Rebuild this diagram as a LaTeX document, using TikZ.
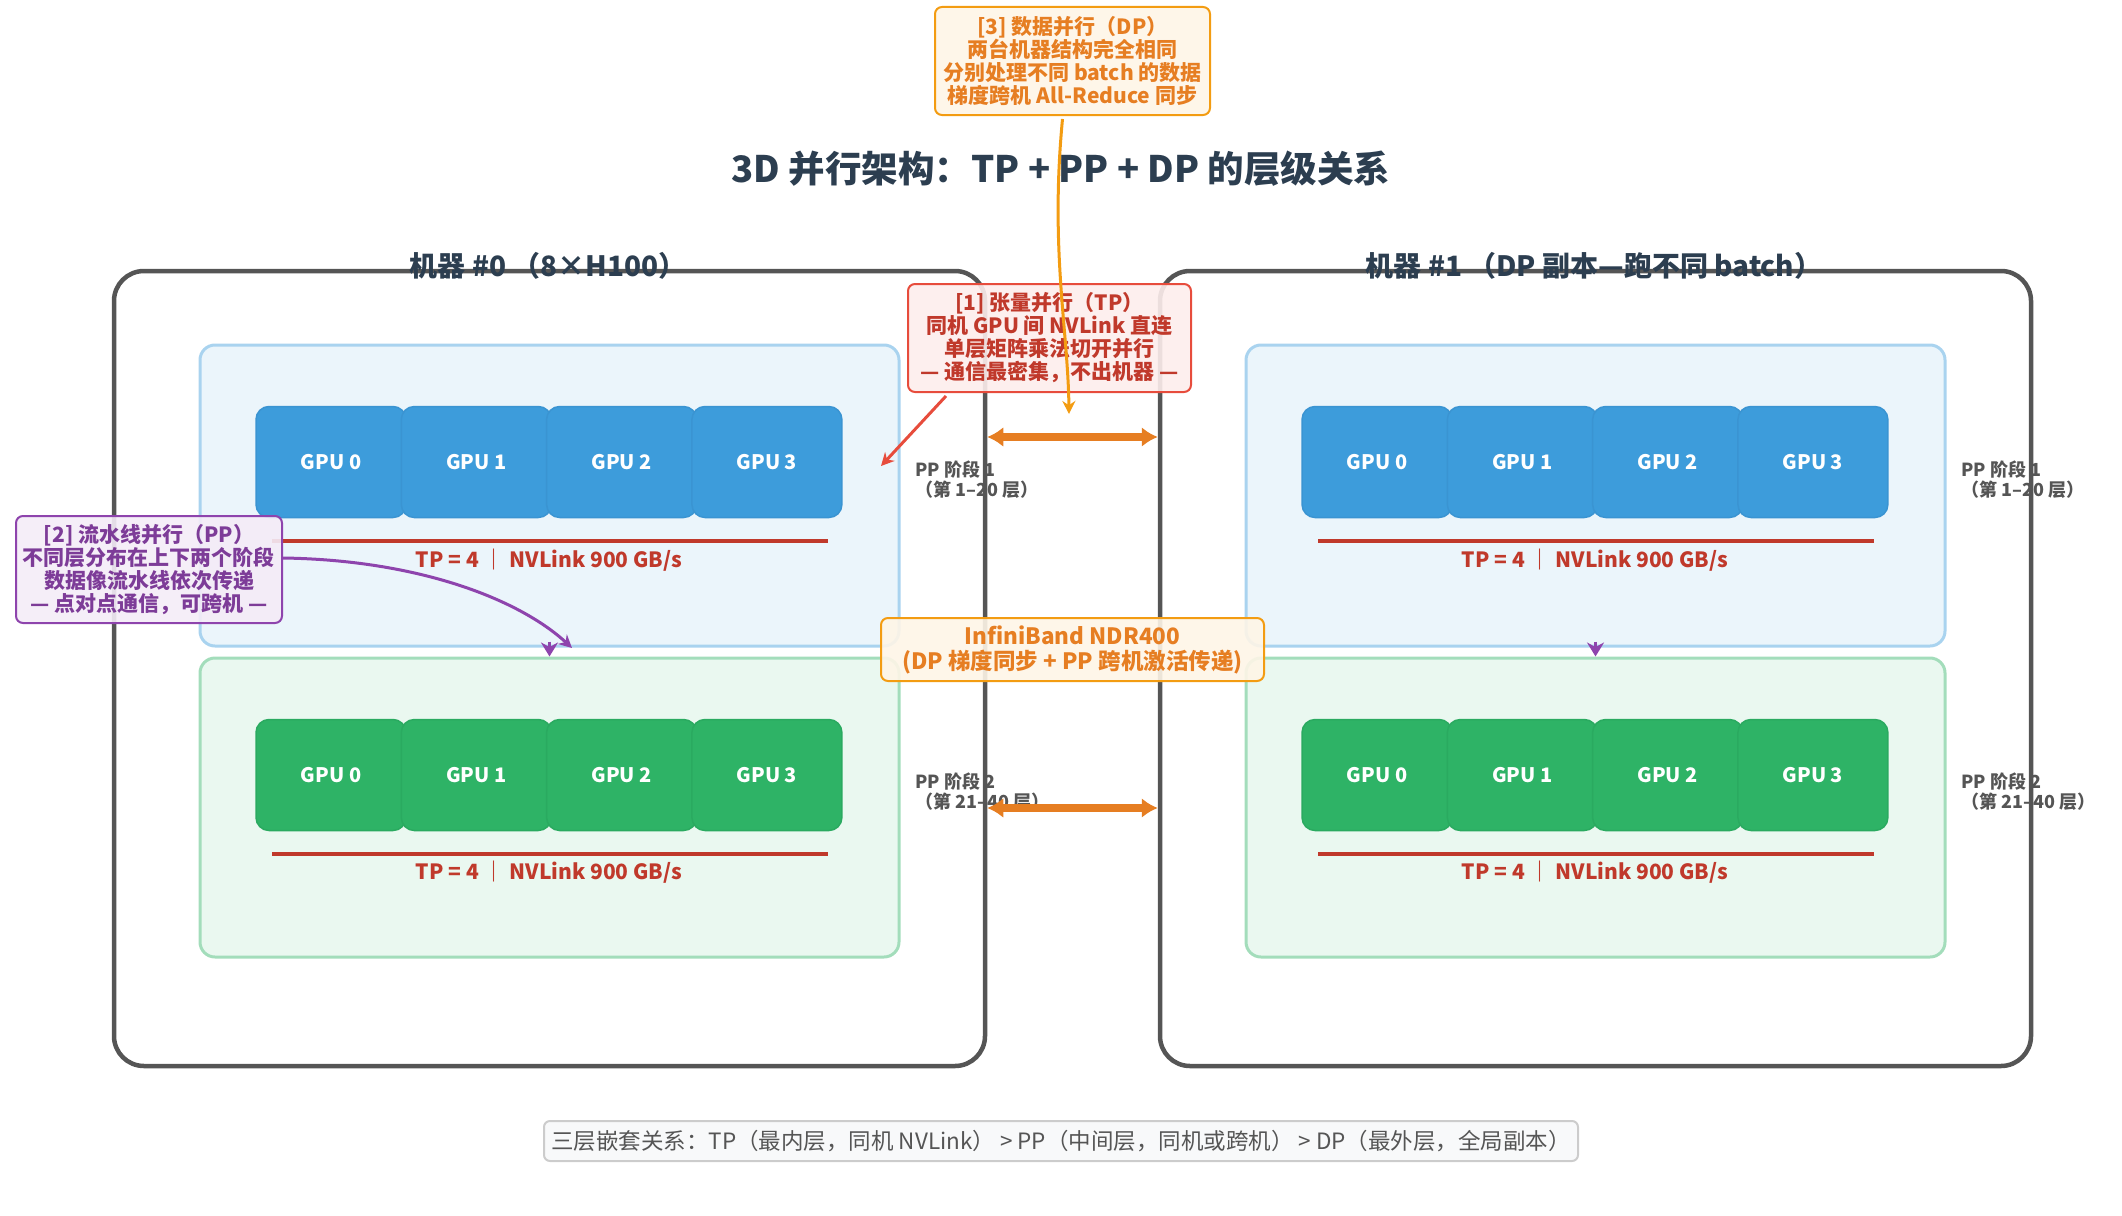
\documentclass[tikz,border=0pt]{standalone}
\usepackage{fontspec}
\setmainfont{Noto Sans CJK SC}
\usetikzlibrary{arrows.meta}
\definecolor{dark}{HTML}{2C3E50}
\definecolor{gpublue}{HTML}{3D9CDB}
\definecolor{gpublueb}{HTML}{3A94D2}
\definecolor{gpugreen}{HTML}{2EB366}
\definecolor{gpugreenb}{HTML}{2AAA60}
\definecolor{tpred}{HTML}{C0392B}
\definecolor{lred}{HTML}{E74C3C}
\definecolor{s1fill}{HTML}{EBF5FB}
\definecolor{s1line}{HTML}{A9D3EF}
\definecolor{s2fill}{HTML}{EAF8F0}
\definecolor{s2line}{HTML}{A3DDBB}
\definecolor{mline}{HTML}{555555}
\definecolor{ppgray}{HTML}{555555}
\definecolor{orA}{HTML}{E67E22}
\definecolor{orB}{HTML}{F39C12}
\definecolor{orfill}{HTML}{FEF5E7}
\definecolor{pkfill}{HTML}{FDEDEC}
\definecolor{pur}{HTML}{8E44AD}
\definecolor{purtext}{HTML}{7D3C98}
\definecolor{purfill}{HTML}{F4ECF7}
\definecolor{notefill}{HTML}{F8F9FA}
\definecolor{noteline}{HTML}{CCCCCC}
\tikzset{
  gpu/.style={rectangle, rounded corners=13, minimum width=150, minimum height=111, line width=1.5, text=white, font=\fontsize{20}{22}\selectfont\bfseries},
  gpuA/.style={gpu, fill=gpublue, draw=gpublueb},
  gpuB/.style={gpu, fill=gpugreen, draw=gpugreenb},
  stageA/.style={rectangle, rounded corners=15, minimum width=699, minimum height=301, fill=s1fill, draw=s1line, line width=3},
  stageB/.style={rectangle, rounded corners=15, minimum width=699, minimum height=299, fill=s2fill, draw=s2line, line width=3},
  machine/.style={rectangle, rounded corners=30, minimum width=871, minimum height=795, draw=mline, line width=4.5},
  mtitle/.style={text=dark, font=\fontsize{28}{30}\selectfont\bfseries},
  tpline/.style={draw=tpred, line width=4},
  tplabel/.style={text=tpred, font=\fontsize{21}{24}\selectfont\bfseries},
  pplabel/.style={text=ppgray, anchor=north west, align=left, font=\fontsize{18}{20}\selectfont\bfseries},
  ibarrow/.style={draw=orA, line width=8, {Latex[length=16,width=20]}-{Latex[length=16,width=20]}},
  callout/.style={rectangle, rounded corners=7, line width=2, align=center, inner sep=3, fill opacity=0.9, text opacity=1, font=\fontsize{21}{23}\selectfont\bfseries},
  tpbox/.style={callout, fill=pkfill, draw=lred, text=tpred},
  dpbox/.style={callout, fill=orfill, draw=orB, text=orA},
  ppbox/.style={callout, fill=purfill, draw=pur, text=purtext},
  ibbox/.style={callout, fill=orfill, draw=orB, text=orA, font=\fontsize{22.5}{25}\selectfont\bfseries},
  ppstep/.style={draw=pur, line width=3, -{Stealth[length=14,width=17]}},
}
\begin{document}
\begin{tikzpicture}[x=1pt, y=-1pt]
\useasboundingbox (0,0) rectangle (2122,1215);
\node[text=dark, font=\fontsize{36.5}{40}\selectfont\bfseries] (title) at (1061,169) {3D 并行架构：TP + PP + DP 的层级关系};

\foreach \m/\dx in {0/0, 1/1046} {
  \node[stageA] (m\m s1) at (549.5+\dx, 495.5) {};
  \node[stageB] (m\m s2) at (549.5+\dx, 807.5) {};
  \foreach \g in {0,1,2,3} {
    \node[gpuA] (m\m a\g) at (331+145.3*\g+\dx, 462) {GPU \g};
    \node[gpuB] (m\m b\g) at (331+145.3*\g+\dx, 775) {GPU \g};
  }
  \draw[tpline] (272+\dx, 541) -- (828+\dx, 541);
  \node[tplabel] (m\m tpa) at (549+\dx, 560) {TP = 4 ｜ NVLink 900 GB/s};
  \draw[tpline] (272+\dx, 854) -- (828+\dx, 854);
  \node[tplabel] (m\m tpb) at (549+\dx, 872) {TP = 4 ｜ NVLink 900 GB/s};
  \draw[ppstep] (m\m s1.south) ++(0,-6) -- (m\m s2.north);
  \node[pplabel] (m\m pa) at (912+\dx, 457) {PP 阶段 1\\ （第 1–20 层）};
  \node[pplabel] (m\m pb) at (912+\dx, 769) {PP 阶段 2\\ （第 21–40 层）};
}

\coordinate (ibA) at (0,437);
\coordinate (ibB) at (0,808);
\node[machine] (m0) at (549.5, 668.5) {};
\node[machine] (m1) at (1595.5, 668.5) {};
\draw[ibarrow] (m0.east |- ibA) -- (m1.west |- ibA);
\draw[ibarrow] (m0.east |- ibB) -- (m1.west |- ibB);
\node[mtitle] (t0) at (548, 266) {机器 \#0 （8×H100）};
\node[mtitle] (t1) at (1594, 266) {机器 \#1 （DP 副本—跑不同 batch）};

\node[tpbox, minimum width=283, minimum height=108] (tp) at (1049.5, 338) {[1] 张量并行（TP）\\同机 GPU 间 NVLink 直连\\单层矩阵乘法切开并行\\— 通信最密集，不出机器 —};
\node[ibbox, minimum width=383, minimum height=63] (ib) at (1072.5, 649.5) {InfiniBand NDR400\\(DP 梯度同步 + PP 跨机激活传递)};
\node[dpbox, minimum width=275, minimum height=108] (dp) at (1072.5, 61) {[3] 数据并行（DP）\\两台机器结构完全相同\\分别处理不同 batch 的数据\\梯度跨机 All-Reduce 同步};
\node[ppbox, minimum width=266, minimum height=107] (pp) at (149, 569.5) {[2] 流水线并行（PP）\\不同层分布在上下两个阶段\\数据像流水线依次传递\\— 点对点通信，可跨机 —};

\coordinate (tpEnd) at (881,466);
\coordinate (ppEnd) at (572,648);
\coordinate (dpEnd) at (1069,414);
\draw[draw=lred, line width=3, -{Stealth[length=13,width=13]}] (tp.south west) ++(39,3) -- (tpEnd);
\draw[draw=pur, line width=3, -{Stealth[length=13,width=13]}] (pp.east |- 0,558) .. controls (420,560) and (520,600) .. (ppEnd);
\draw[draw=orB, line width=3, -{Stealth[length=13,width=13]}] (dp.south) ++(-10,3) .. controls (1050,250) and (1068,330) .. (dpEnd);

\node[rectangle, rounded corners=6, fill=notefill, draw=noteline, line width=2, minimum width=1034, minimum height=40, text=ppgray, font=\fontsize{22.5}{25}\selectfont] (note) at (1061,1141) {三层嵌套关系：TP（最内层，同机 NVLink） > PP（中间层，同机或跨机） > DP（最外层，全局副本）};
\end{tikzpicture}
\end{document}
